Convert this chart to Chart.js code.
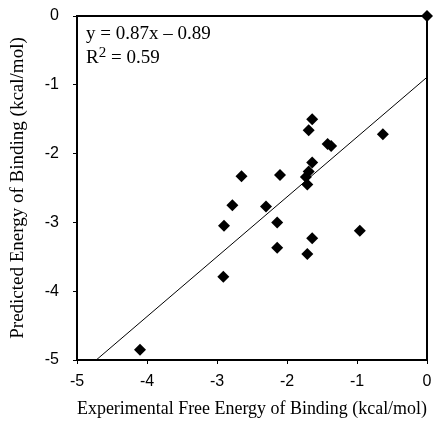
<!DOCTYPE html>
<html>
<head>
<meta charset="utf-8">
<script src="https://cdn.jsdelivr.net/npm/chart.js@4"></script>
<style>
  html, body { margin: 0; padding: 0; background: #fff; }
  #wrap { width: 440px; height: 421px; }
</style>
</head>
<body>
<div id="wrap"><canvas id="c" width="440" height="421"></canvas></div>
<script>
// experimental vs predicted binding energies (kcal/mol)
const expX  = [-4.10, -2.91, -2.90, -2.78, -2.65, -2.30, -2.14, -2.14, -2.10, -1.73, -1.71,
               -1.69, -1.71, -1.64, -1.64, -1.69, -1.64, -1.42, -1.37, -0.96, -0.63, 0];
const predY = [-4.85, -3.79, -3.05, -2.75, -2.33, -2.77, -3.00, -3.37, -2.31, -2.34, -2.45,
               -2.26, -3.46, -3.23, -2.13, -1.66, -1.50, -1.86, -1.89, -3.12, -1.72, 0];

// regression line endpoints (y = 0.87x - 0.89)
const fitX = [-4.76, 0];
const fitY = [-5.03, -0.89];

const xTicks = [-5, -4, -3, -2, -1, 0];
const yTicks = [0, -1, -2, -3, -4, -5];

const eqText = 'y = 0.87x \u2013 0.89';
const r2Value = ' = 0.59';

const serif = '"Liberation Serif", "Times New Roman", serif';
const sans = '"Liberation Sans", Arial, sans-serif';

Chart.defaults.font.family = sans;
Chart.defaults.font.size = 16;
Chart.defaults.color = '#000';

const frame = {
    id: 'frame',
    afterDraw(chart) {
        const { ctx, chartArea: a } = chart;
        ctx.save();
        ctx.strokeStyle = '#000';
        ctx.lineWidth = 2;
        ctx.strokeRect(a.left, a.top, a.right - a.left, a.bottom - a.top);
        ctx.fillStyle = '#000';
        ctx.textBaseline = 'alphabetic';
        const x0 = a.left + 9;
        ctx.font = '19px ' + serif;
        ctx.fillText(eqText, x0, a.top + 23);
        ctx.fillText('R', x0, a.top + 47);
        const rw = ctx.measureText('R').width;
        ctx.font = '15px ' + serif;
        ctx.fillText('2', x0 + rw, a.top + 41);
        const sw = ctx.measureText('2').width;
        ctx.font = '19px ' + serif;
        ctx.fillText(r2Value, x0 + rw + sw, a.top + 47);
        ctx.restore();
    }
};

const titleFont = { family: serif, size: 19 };

new Chart(document.getElementById('c'), {
    type: 'scatter',
    data: {
        datasets: [
            {
                data: expX.map((x, i) => ({ x: x, y: predY[i] })),
                pointStyle: 'rectRot',
                pointRadius: 6,
                backgroundColor: '#000',
                borderColor: '#000',
                borderWidth: 0,
                clip: false
            },
            {
                type: 'line',
                data: fitX.map((x, i) => ({ x: x, y: fitY[i] })),
                borderColor: '#000',
                borderWidth: 1,
                pointRadius: 0,
                fill: false
            }
        ]
    },
    options: {
        responsive: false,
        animation: false,
        layout: { padding: { left: 0, right: 13, top: 16, bottom: 0 } },
        plugins: { legend: { display: false }, tooltip: { enabled: false } },
        scales: {
            x: {
                type: 'linear',
                min: -5, max: 0,
                afterBuildTicks: s => { s.ticks = xTicks.map(v => ({ value: v })); },
                afterFit: s => { s.height = 61; s.paddingRight = 0; },
                grid: { drawOnChartArea: false, drawTicks: true, tickLength: 4, color: '#000' },
                border: { color: '#000', width: 2 },
                ticks: { color: '#000', font: { size: 16 }, padding: 8, maxRotation: 0 },
                title: { display: true, text: 'Experimental Free Energy of Binding (kcal/mol)',
                         color: '#000', font: titleFont, padding: { top: 0, bottom: 1 } }
            },
            y: {
                type: 'linear',
                min: -5, max: 0,
                afterBuildTicks: s => { s.ticks = yTicks.map(v => ({ value: v })); },
                afterFit: s => { s.width = 77; s.paddingTop = 0; s.paddingBottom = 0; },
                grid: { drawOnChartArea: false, drawTicks: true, tickLength: 4, color: '#000' },
                border: { color: '#000', width: 2 },
                ticks: { color: '#000', font: { size: 16 }, padding: 14 },
                title: { display: true, text: 'Predicted Energy of Binding (kcal/mol)',
                         color: '#000', font: titleFont, padding: { top: 7, bottom: 0 } }
            }
        }
    },
    plugins: [frame]
});
</script>
</body>
</html>
